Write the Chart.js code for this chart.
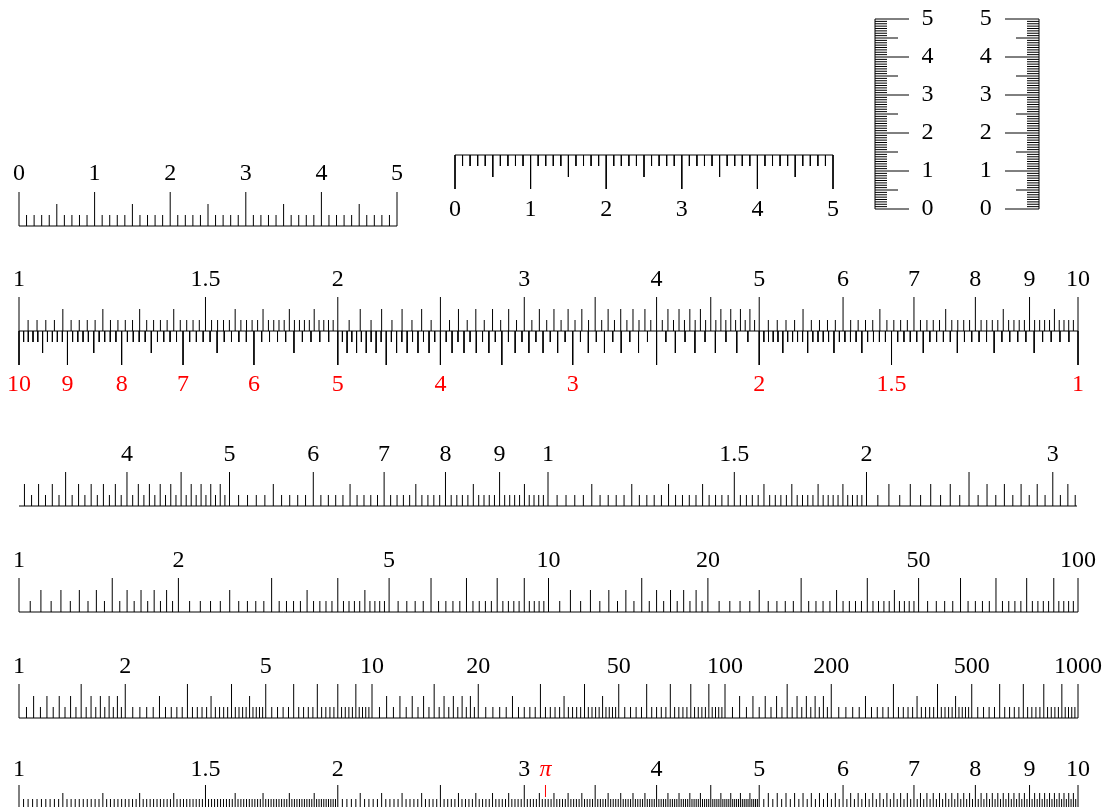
<!DOCTYPE html>
<html>
<head>
<meta charset="utf-8">
<script src="https://cdn.jsdelivr.net/npm/chart.js@4.4.1/dist/chart.umd.min.js"></script>
<style>
  html, body { margin: 0; padding: 0; background: #fff; overflow: hidden; width: 1106px; height: 807px; }
  canvas { position: absolute; }
</style>
</head>
<body>
<script>
const FONT = { family: "'Liberation Serif', 'Times New Roman', serif", size: 24 };
const INK = '#000000';
const RED = '#ff0000';

// subdivisions: [from, to, major step, medium step, short step]
const LINEAR_DIVS = [[0, 5, 1, 0.5, 0.1]];
const VERTICAL_DIVS = [[0, 5, 1, 0.5, 0.0625]];
const C_DIVS = [[1, 2, 0.5, 0.1, 0.02], [2, 5, 0.5, 0.1, 0.05], [5, 10, 1, 0.5, 0.1]];
const A_DIVS = [[1, 2, 0.5, 0.1, 0.05], [2, 5, 1, 0.5, 0.1], [5, 10, 1, 0, 0.2]];
const D_DIVS = [[1, 2, 0.5, 0.1, 0.01], [2, 5, 0.5, 0.1, 0.02], [5, 10, 1, 0.1, 0.05]];

// labels
const RULER_VALUES = [0, 1, 2, 3, 4, 5];
const C_VALUES = [1, 1.5, 2, 3, 4, 5, 6, 7, 8, 9, 10];
const CI_VALUES = [10, 9, 8, 7, 6, 5, 4, 3, 2, 1.5, 1];
const CF_VALUES = [4, 5, 6, 7, 8, 9, 10, 15, 20, 30];
const CF_TEXTS = ['4', '5', '6', '7', '8', '9', '1', '1.5', '2', '3'];
const A_VALUES = [1, 2, 5, 10, 20, 50, 100];
const K_VALUES = [1, 2, 5, 10, 20, 50, 100, 200, 500, 1000];
const D_VALUES = [1, 1.5, 2, 3, Math.PI, 4, 5, 6, 7, 8, 9, 10];
const D_TEXTS = ['1', '1.5', '2', '3', 'π', '4', '5', '6', '7', '8', '9', '10'];

// tick lengths [major, medium, short]
const TICK_LEN = [34, 22, 11];
const VERT_LEN = [34, 23, 12];
const D_LEN = [37, 29, 23];
const PI_MARK = [25, 37];

const PADX = 30;

function graduations(divs, decades, lo, hi) {
  const seen = new Map();
  decades.forEach(f => {
    divs.forEach(([from, to, major, medium, step]) => {
      const n = Math.round((to - from) / step);
      for (let i = 0; i <= n; i++) {
        const v = from + i * step;
        const on = s => s > 0 && Math.abs(v / s - Math.round(v / s)) < 1e-6;
        const level = on(major) ? 0 : on(medium) ? 1 : 2;
        const x = +(v * f).toPrecision(10);
        if (lo !== undefined && (x < lo - 1e-9 || x > hi + 1e-9)) continue;
        const key = x.toFixed(6);
        if (!seen.has(key) || seen.get(key).level > level) seen.set(key, { x, level });
      }
    });
  });
  return [...seen.values()];
}

// vertical tick marks standing on (dir 1) or hanging from (dir -1) the baseline
function tickPoints(grads, lens, dir) {
  const pts = [];
  grads.forEach(g => pts.push({ x: g.x, y: 0 }, { x: g.x, y: dir * lens[g.level] }, { x: g.x, y: null }));
  return pts;
}

// horizontal tick marks for the upright rulers
function sidePoints(grads, lens) {
  const pts = [];
  grads.forEach(g => pts.push({ x: 0, y: g.x }, { x: lens[g.level], y: g.x }, { x: 0, y: null }));
  return pts;
}

function lineSet(points, color, xAxisID) {
  return {
    data: points, showLine: true, spanGaps: false, clip: false,
    borderColor: color, borderWidth: 1, pointRadius: 0, pointHoverRadius: 0,
    xAxisID: xAxisID || 'x', yAxisID: 'y'
  };
}

function labelScale(o) {
  return {
    type: o.type || 'linear', axis: o.axis || 'x', position: o.position,
    min: o.min, max: o.max, reverse: !!o.reverse, bounds: 'data',
    grid: { display: false, drawTicks: false, tickLength: 0 },
    border: { display: false },
    afterBuildTicks: s => { s.ticks = o.values.map(v => ({ value: v })); },
    afterFit: s => {
      if (o.axis === 'y') s.width = o.size; else s.height = o.size;
      s.paddingTop = s.paddingBottom = s.paddingLeft = s.paddingRight = 0;
    },
    ticks: {
      autoSkip: false, maxRotation: 0, minRotation: 0, padding: o.padding,
      callback: (v, i) => (o.texts ? o.texts[i] : String(o.values[i])),
      color: c => (o.colors ? o.colors[c.index] : (o.color || INK)),
      font: c => (o.italic && o.italic[c.index] ? Object.assign({}, FONT, { style: 'italic' }) : FONT)
    }
  };
}

function plainScale(axis, min, max, reverse, type) {
  return { type: type || 'linear', axis, min, max, reverse: !!reverse, display: false, bounds: 'data' };
}

function chartAt(left, top, w, h, pad, scales, datasets) {
  const c = document.createElement('canvas');
  c.width = w; c.height = h;
  c.style.left = left + 'px'; c.style.top = top + 'px';
  c.style.width = w + 'px'; c.style.height = h + 'px';
  document.body.appendChild(c);
  return new Chart(c, {
    type: 'scatter',
    data: { datasets },
    options: {
      responsive: false, animation: false, devicePixelRatio: 1, events: [],
      layout: { padding: pad },
      plugins: { legend: { display: false }, tooltip: { enabled: false }, title: { display: false } },
      scales
    }
  });
}

// horizontal ruler: chart area spans the ticks, label axes above/below
function horizontal(o) {
  const topH = o.topH || 0, bottomH = o.bottomH || 0;
  const padTop = topH ? 0 : 4, padBottom = bottomH ? 0 : 4;
  const areaTop = o.baseline - o.up;
  const top = areaTop - topH - padTop;
  const h = padTop + topH + o.up + o.down + bottomH + padBottom;
  const scales = Object.assign({ y: plainScale('y', -o.down, o.up) }, o.scales);
  return chartAt(o.x0 - PADX, top, o.x1 - o.x0 + 2 * PADX, h,
    { left: PADX, right: PADX, top: padTop, bottom: padBottom }, scales, o.datasets);
}

// ---- top-left ruler: ticks standing up, labels above
const rulerTicks = graduations(LINEAR_DIVS, [1]);
horizontal({
  x0: 19, x1: 397, baseline: 226, up: 34, down: 0, topH: 40,
  scales: { x: labelScale({ position: 'top', min: 0, max: 5, values: RULER_VALUES, padding: 3.6, size: 40 }) },
  datasets: [lineSet(tickPoints(rulerTicks, TICK_LEN, 1), INK), lineSet([{ x: 0, y: 0 }, { x: 5, y: 0 }], INK)]
});

// ---- top-middle ruler: ticks hanging down, labels below
horizontal({
  x0: 455, x1: 833, baseline: 155, up: 0, down: 34, bottomH: 40,
  scales: { x: labelScale({ position: 'bottom', min: 0, max: 5, values: RULER_VALUES, padding: 6.6, size: 40 }) },
  datasets: [lineSet(tickPoints(rulerTicks, TICK_LEN, -1), INK), lineSet([{ x: 0, y: 0 }, { x: 5, y: 0 }], INK)]
});

// ---- upright rulers
const vertTicks = graduations(VERTICAL_DIVS, [1]);
chartAt(865, 0, 86, 230, { left: 10, right: 2, top: 19, bottom: 21 }, {
  x: plainScale('x', 0, 34),
  y: labelScale({ axis: 'y', position: 'right', min: 0, max: 5, values: RULER_VALUES, padding: 12.4, size: 40 })
}, [lineSet(sidePoints(vertTicks, VERT_LEN), INK), lineSet([{ x: 0, y: 0 }, { x: 0, y: 5 }], INK)]);

chartAt(963, 0, 86, 230, { left: 2, right: 10, top: 19, bottom: 21 }, {
  x: plainScale('x', 0, 34, true),
  y: labelScale({ axis: 'y', position: 'left', min: 0, max: 5, values: RULER_VALUES, padding: 13.3, size: 40 })
}, [lineSet(sidePoints(vertTicks, VERT_LEN), INK), lineSet([{ x: 0, y: 0 }, { x: 0, y: 5 }], INK)]);

// ---- C scale above, CI scale below
const cTicks = graduations(C_DIVS, [1]);
horizontal({
  x0: 19, x1: 1078, baseline: 331, up: 34, down: 34, topH: 40, bottomH: 45,
  scales: {
    x: labelScale({ type: 'logarithmic', position: 'top', min: 1, max: 10, values: C_VALUES, padding: 2.6, size: 40 }),
    ci: labelScale({ type: 'logarithmic', position: 'bottom', min: 1, max: 10, reverse: true, values: CI_VALUES, color: RED, padding: 5.3, size: 45 })
  },
  datasets: [
    lineSet(tickPoints(cTicks, TICK_LEN, 1), INK),
    lineSet(tickPoints(cTicks, TICK_LEN, -1), INK, 'ci'),
    lineSet([{ x: 1, y: 0 }, { x: 10, y: 0 }], INK)
  ]
});

// ---- CF scale folded at sqrt(10)
const CF_MIN = Math.sqrt(10), CF_MAX = 10 * Math.sqrt(10);
horizontal({
  x0: 19, x1: 1077, baseline: 506, up: 34, down: 0, topH: 40,
  scales: { x: labelScale({ type: 'logarithmic', position: 'top', min: CF_MIN, max: CF_MAX, values: CF_VALUES, texts: CF_TEXTS, padding: 2.6, size: 40 }) },
  datasets: [
    lineSet(tickPoints(graduations(C_DIVS, [1, 10], CF_MIN, CF_MAX), TICK_LEN, 1), INK),
    lineSet([{ x: CF_MIN, y: 0 }, { x: CF_MAX, y: 0 }], INK)
  ]
});

// ---- A scale (two decades)
horizontal({
  x0: 19, x1: 1078, baseline: 612, up: 34, down: 0, topH: 40,
  scales: { x: labelScale({ type: 'logarithmic', position: 'top', min: 1, max: 100, values: A_VALUES, padding: 2.6, size: 40 }) },
  datasets: [
    lineSet(tickPoints(graduations(A_DIVS, [1, 10]), TICK_LEN, 1), INK),
    lineSet([{ x: 1, y: 0 }, { x: 100, y: 0 }], INK)
  ]
});

// ---- K scale (three decades)
horizontal({
  x0: 19, x1: 1078, baseline: 718, up: 34, down: 0, topH: 40,
  scales: { x: labelScale({ type: 'logarithmic', position: 'top', min: 1, max: 1000, values: K_VALUES, padding: 2.6, size: 40 }) },
  datasets: [
    lineSet(tickPoints(graduations(A_DIVS, [1, 10, 100]), TICK_LEN, 1), INK),
    lineSet([{ x: 1, y: 0 }, { x: 1000, y: 0 }], INK)
  ]
});

// ---- D scale with pi marked
const dColors = D_VALUES.map(v => (v === Math.PI ? RED : INK));
const dItalic = D_VALUES.map(v => v === Math.PI);
horizontal({
  x0: 19, x1: 1078, baseline: 822, up: 37, down: 0, topH: 40,
  scales: { x: labelScale({ type: 'logarithmic', position: 'top', min: 1, max: 10, values: D_VALUES, texts: D_TEXTS, colors: dColors, italic: dItalic, padding: 0.6, size: 40 }) },
  datasets: [
    lineSet(tickPoints(graduations(D_DIVS, [1]), D_LEN, 1), INK),
    lineSet([{ x: Math.PI, y: PI_MARK[0] }, { x: Math.PI, y: PI_MARK[1] }], RED),
    lineSet([{ x: 1, y: 0 }, { x: 10, y: 0 }], INK)
  ]
});
</script>
</body>
</html>
